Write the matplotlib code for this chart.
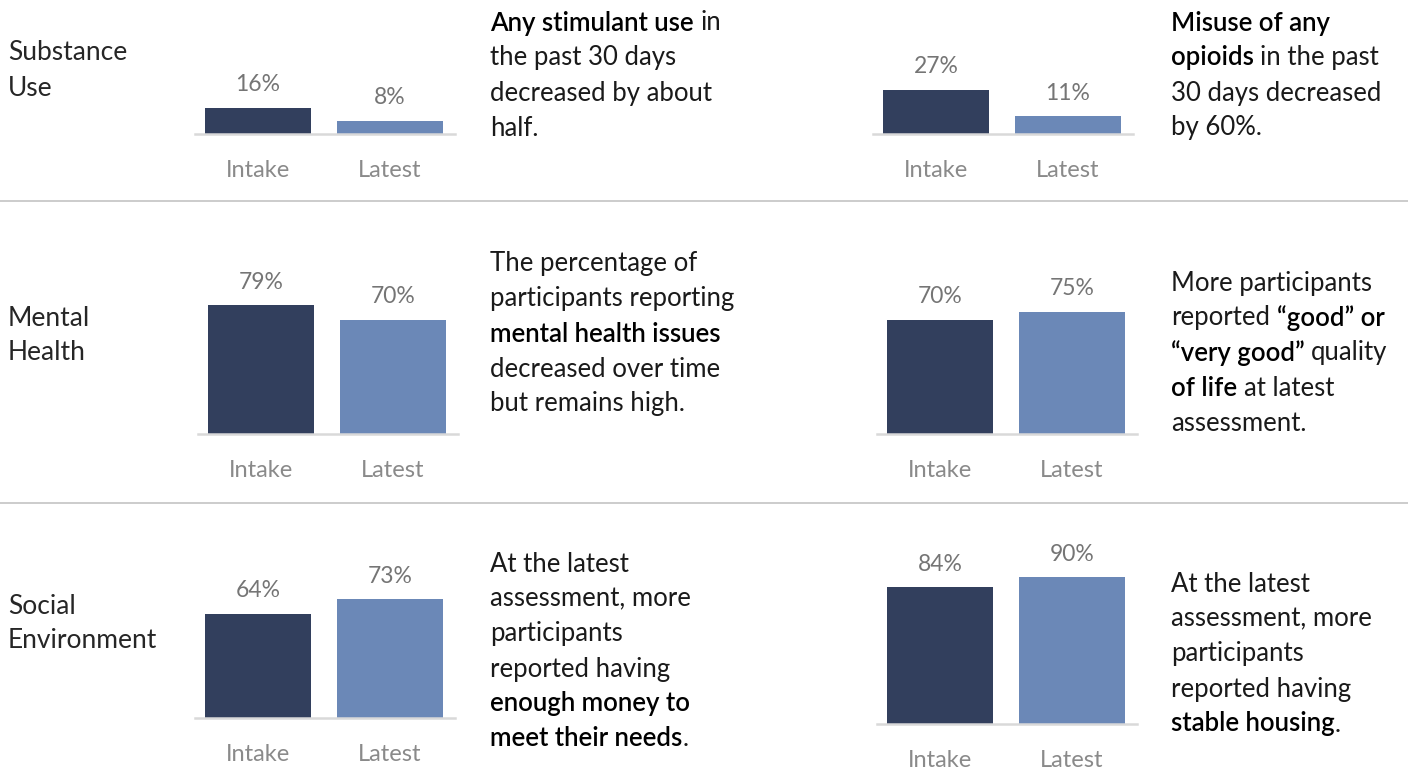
import matplotlib
matplotlib.use("Agg")
import matplotlib.pyplot as plt

# data
row_names = ["Substance\nUse", "Mental\nHealth", "Social\nEnvironment"]
categories = ["Intake", "Latest"]
intake = [16, 27, 79, 70, 64, 84]
latest = [8, 11, 70, 75, 73, 90]

# (text, bold) segments per line, one list per panel
notes = [
    [[("Any stimulant use", True), (" in", False)],
     [("the past 30 days", False)],
     [("decreased by about", False)],
     [("half.", False)]],
    [[("Misuse of any", True)],
     [("opioids", True), (" in the past", False)],
     [("30 days decreased", False)],
     [("by 60%.", False)]],
    [[("The percentage of", False)],
     [("participants reporting", False)],
     [("mental health issues", True)],
     [("decreased over time", False)],
     [("but remains high.", False)]],
    [[("More participants", False)],
     [("reported ", False), ("\u201cgood\u201d or", True)],
     [("\u201cvery good\u201d", True), (" quality", False)],
     [("of life", True), (" at latest", False)],
     [("assessment.", False)]],
    [[("At the latest", False)],
     [("assessment, more", False)],
     [("participants", False)],
     [("reported having", False)],
     [("enough money to", True)],
     [("meet their needs", True), (".", False)]],
    [[("At the latest", False)],
     [("assessment, more", False)],
     [("participants", False)],
     [("reported having", False)],
     [("stable housing", True), (".", False)]],
]

# layout in pixels
W, H = 1408, 771
bar_left = [205, 883, 208, 887, 205, 887]
baseline = [134, 134, 434, 434, 718, 724]
note_x = [490, 1171, 490, 1171, 490, 1171]
note_y0 = [23, 23, 264, 283, 564, 584]
line_gap = 35
px_per_pct = 1.63
row_label_y = [53, 318, 606]
sep_y = [200.5, 503]

dark = "#323f5d"
light = "#6b88b7"
FONT = "Lato"

fig = plt.figure(figsize=(W / 100, H / 100), dpi=100)
renderer = fig.canvas.get_renderer()


def fx(px):
    return px / W


def fy(py):
    return 1 - py / H


for y in sep_y:
    fig.add_artist(plt.Line2D([0, 1], [fy(y), fy(y)], color="#c8c8c8", lw=1.3))

for i, name in enumerate(row_names):
    fig.text(fx(8), fy(row_label_y[i] + 17.5), name, fontsize=19, family=FONT,
             fontweight="normal", color="#262626", va="center", ha="left",
             linespacing=1.5)

step = 132
bw = 106
for k in range(6):
    c0 = bar_left[k] + bw / 2
    left = c0 - 63
    width = 260
    top_px = 160
    ax = fig.add_axes([fx(left), fy(baseline[k]), width / W, top_px / H])
    ax.set_xlim(-63 / step, 1 + 65 / step)
    ax.set_ylim(0, top_px / px_per_pct)
    vals = [intake[k], latest[k]]
    bars = ax.bar([0, 1], vals, width=bw / step, color=[dark, light])
    for b, v in zip(bars, vals):
        ax.annotate(f"{v}%", (b.get_x() + b.get_width() / 2, v),
                    xytext=(0, 9), textcoords="offset points", ha="center",
                    va="bottom", fontsize=16.5, family=FONT, fontweight="normal",
                    color="#757575")
    ax.set_xticks([0, 1])
    ax.set_xticklabels(categories, fontsize=17, family=FONT,
                       fontweight="normal", color="#8a8a8a")
    ax.tick_params(axis="x", length=0, pad=19)
    ax.set_yticks([])
    for s in ["top", "left", "right"]:
        ax.spines[s].set_visible(False)
    ax.spines["bottom"].set_color("#d9d9d9")
    ax.spines["bottom"].set_linewidth(1.8)
    ax.patch.set_alpha(0)


def text_width(s, weight, size):
    t = fig.text(0, 0, s, fontsize=size, family=FONT, fontweight=weight)
    w = t.get_window_extent(renderer).width
    t.remove()
    return w


note_size = 18.5
for k in range(6):
    for j, line in enumerate(notes[k]):
        x = note_x[k]
        y = note_y0[k] + j * line_gap
        for txt, bold in line:
            weight = "semibold" if bold else "normal"
            color = "black" if bold else "#1a1a1a"
            sp = text_width("a a", weight, note_size) - text_width("aa", weight, note_size)
            lead = len(txt) - len(txt.lstrip(" "))
            trail = len(txt) - len(txt.rstrip(" "))
            core = txt.strip(" ")
            x += lead * sp
            t = fig.text(fx(x), fy(y), core, fontsize=note_size, family=FONT,
                         fontweight=weight, color=color, va="center", ha="left")
            x += t.get_window_extent(renderer).width + trail * sp

fig.savefig("out.png", dpi=100)
